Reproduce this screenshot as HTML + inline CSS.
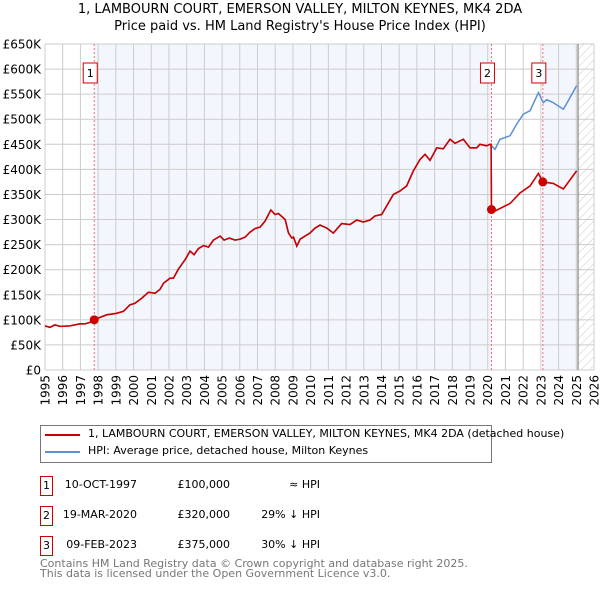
<!DOCTYPE html>
<html><head><meta charset="utf-8"><style>
body{margin:0;background:#fff;font-family:"DejaVu Sans","Liberation Sans",sans-serif;}
#wrap{position:relative;width:600px;height:590px;overflow:hidden}
.t{position:absolute;white-space:nowrap;color:#000}
</style></head><body><div id="wrap">
<div class="t" style="left:0;width:600px;text-align:center;top:2px;font-size:13px">1, LAMBOURN COURT, EMERSON VALLEY, MILTON KEYNES, MK4 2DA</div>
<div class="t" style="left:0;width:600px;text-align:center;top:19px;font-size:13px">Price paid vs. HM Land Registry's House Price Index (HPI)</div>
<svg id="chart" width="600" height="420" style="position:absolute;left:0;top:0" font-family="DejaVu Sans, Liberation Sans, sans-serif">
<defs><pattern id="hatch" width="6" height="6" patternUnits="userSpaceOnUse" patternTransform="rotate(45)"><line x1="0" y1="0" x2="0" y2="6" stroke="#bbb" stroke-width="0.8"/></pattern></defs>
</svg>
<div style="position:absolute;left:40px;top:425px;width:450px;height:36px;border:1px solid #777;background:#fff">
<div><div style="position:absolute;left:4px;top:8px;width:35px;height:2px;background:#cc0000"></div><div class="t" style="left:47px;top:1px;font-size:11px">1, LAMBOURN COURT, EMERSON VALLEY, MILTON KEYNES, MK4 2DA (detached house)</div></div>
<div><div style="position:absolute;left:4px;top:25px;width:35px;height:2px;background:#5b8fd6"></div><div class="t" style="left:47px;top:18px;font-size:11px">HPI: Average price, detached house, Milton Keynes</div></div>
</div>
<div id="table"></div>
<div class="t" style="left:40px;top:559px;font-size:11px;color:#777;line-height:10px">Contains HM Land Registry data © Crown copyright and database right 2025.<br>This data is licensed under the Open Government Licence v3.0.</div>
</div>
<script>
const hpiYears=[1995.0,1995.28,1995.56,1995.85,1996.41,1996.98,1997.26,1997.54,1997.78,1998.11,1998.48,1999.05,1999.43,1999.8,2000.08,2000.46,2000.84,2001.21,2001.5,2001.69,2002.06,2002.25,2002.53,2002.91,2003.19,2003.42,2003.66,2003.95,2004.23,2004.51,2004.89,2005.11,2005.41,2005.73,2006.02,2006.3,2006.58,2006.86,2007.15,2007.43,2007.75,2007.99,2008.18,2008.47,2008.56,2008.75,2008.94,2009.03,2009.22,2009.41,2009.96,2010.25,2010.53,2010.91,2011.28,2011.75,2012.22,2012.6,2012.98,2013.35,2013.63,2014.01,2014.29,2014.67,2015.05,2015.42,2015.8,2016.18,2016.46,2016.74,2017.12,2017.49,2017.87,2018.15,2018.62,2019.0,2019.38,2019.56,2019.94,2020.13,2020.41,2020.69,2021.26,2021.63,2022.01,2022.39,2022.86,2023.14,2023.33,2023.7,2024.27,2024.55,2025.02];
const hpiValues=[88,85,90,87,88,92,92,95,100,105,110,113,117,130,133,143,155,153,161,173,183,183,201,220,237,230,242,248,245,259,267,259,263,259,261,265,275,282,285,297,319,310,312,303,300,273,263,265,247,261,273,283,289,283,273,292,290,299,295,299,307,310,327,350,357,367,397,420,430,418,443,441,460,452,460,443,443,450,447,450,440,460,467,490,510,517,553,533,539,533,520,537,567];
const redYears=[2020.21,2020.41,2021.26,2021.82,2022.39,2022.86,2023.11,2023.7,2024.27,2025.02];
const redValues=[320,317,332,353,367,392,375,372,361,397];
const saleYears=[1997.78,2020.21,2023.11];
const saleValues=[100,320,375];
const saleLabels=["1","2","3"];
const saleDates=["10-OCT-1997","19-MAR-2020","09-FEB-2023"];
const salePrices=["£100,000","£320,000","£375,000"];
const saleRel=["≈ HPI","29% ↓ HPI","30% ↓ HPI"];
const yTicks=[0,50,100,150,200,250,300,350,400,450,500,550,600,650];
const yTickLabels=["£0","£50K","£100K","£150K","£200K","£250K","£300K","£350K","£400K","£450K","£500K","£550K","£600K","£650K"];
const xTicks=[1995,1996,1997,1998,1999,2000,2001,2002,2003,2004,2005,2006,2007,2008,2009,2010,2011,2012,2013,2014,2015,2016,2017,2018,2019,2020,2021,2022,2023,2024,2025,2026];
const dataEnd=2025.1;

const X0=45,X1=594,Y0=370,Y1=44;
const xs=y=>X0+(y-1995)/(2026-1995)*(X1-X0);
const ys=v=>Y0-v/650*(Y0-Y1);
const svg=document.getElementById('chart');
const NS='http://www.w3.org/2000/svg';
function mk(tag,attrs){const e=document.createElementNS(NS,tag);for(const k in attrs)e.setAttribute(k,attrs[k]);svg.appendChild(e);return e;}
let r=mk('rect',{x:X0,y:Y1,width:X1-X0,height:Y0-Y1,fill:'#fff'});


r=mk('rect',{x:xs(saleYears[0]),y:Y1,width:xs(saleYears[1])-xs(saleYears[0]),height:Y0-Y1,fill:'#f3f6fd'});


r=mk('rect',{x:xs(saleYears[2]),y:Y1,width:xs(dataEnd)-xs(saleYears[2]),height:Y0-Y1,fill:'#f3f6fd'});


r=mk('rect',{x:xs(dataEnd),y:Y1,width:X1-xs(dataEnd),height:Y0-Y1,fill:'url(#hatch)'});


yTicks.forEach((v,i)=>{
 const l=mk('line',{x1:X0,x2:X1,y1:ys(v),y2:ys(v),stroke:'#ccc','stroke-width':1});
 
 
 const t=mk('text',{x:41,y:ys(v)+4.5,'text-anchor':'end','font-size':12,fill:'#000'});
 
 
 t.textContent=yTickLabels[i];
});
xTicks.forEach(y=>{
 const l=mk('line',{x1:xs(y),x2:xs(y),y1:Y1,y2:Y0,stroke:'#ccc','stroke-width':1});
 
 
 const t=mk('text',{x:0,y:0,'text-anchor':'end','font-size':12,fill:'#000',transform:`translate(${xs(y)+4.5},375) rotate(-90)`});
 
 
 t.textContent=y;
});
const dl=mk('line',{x1:xs(dataEnd),x2:xs(dataEnd),y1:Y1,y2:Y0,stroke:'#888','stroke-width':1.2});


saleYears.forEach((y,i)=>{
 const l=mk('line',{x1:xs(y),x2:xs(y),y1:Y1,y2:Y0,stroke:'#f07070','stroke-width':1,'stroke-dasharray':'2,2'});
 
 
});
const hp=mk('polyline',{points:hpiYears.map((y,i)=>xs(y)+','+ys(hpiValues[i])).join(' '),fill:'none',stroke:'#5b8fd6','stroke-width':1.5});


const pts=[];
hpiYears.forEach((y,i)=>{if(y<saleYears[1])pts.push(xs(y)+','+ys(hpiValues[i]));});
pts.push(xs(saleYears[1]-0.02)+','+ys(hpiValues[hpiYears.findIndex(y=>y>=saleYears[1])-1]));
redYears.forEach((y,i)=>pts.push(xs(y)+','+ys(redValues[i])));
const rp=mk('polyline',{points:pts.join(' '),fill:'none',stroke:'#cc0000','stroke-width':1.6});


saleYears.forEach((y,i)=>{
 const c=mk('circle',{cx:xs(y),cy:ys(saleValues[i]),r:4.5,fill:'#cc0000'});
 
 
 const b=mk('rect',{x:xs(y)-11,y:63,width:14,height:20,fill:'#fff',stroke:'#cc0000','stroke-width':1});
 
 
 const t=mk('text',{x:xs(y)-4,y:77,'text-anchor':'middle','font-size':11,fill:'#000'});
 
 
 t.textContent=saleLabels[i];
});
const tb=document.getElementById('table');
saleLabels.forEach((lab,i)=>{
 const top=476+i*30;
 const row=document.createElement('div');
 
 
 row.innerHTML=`<div style="position:absolute;left:40px;top:${top}px;width:11px;height:18px;border:1px solid #cc0000;font-size:11px;text-align:center;line-height:18px">${lab}</div>
<div class="t" style="left:60px;width:77px;text-align:right;top:${top+2}px;font-size:11px">${saleDates[i]}</div>
<div class="t" style="left:170px;width:60px;text-align:right;top:${top+2}px;font-size:11px">${salePrices[i]}</div>
<div class="t" style="left:250px;width:70px;text-align:right;top:${top+2}px;font-size:11px">${saleRel[i]}</div>`;
 tb.appendChild(row);
});
</script>
</body></html>
